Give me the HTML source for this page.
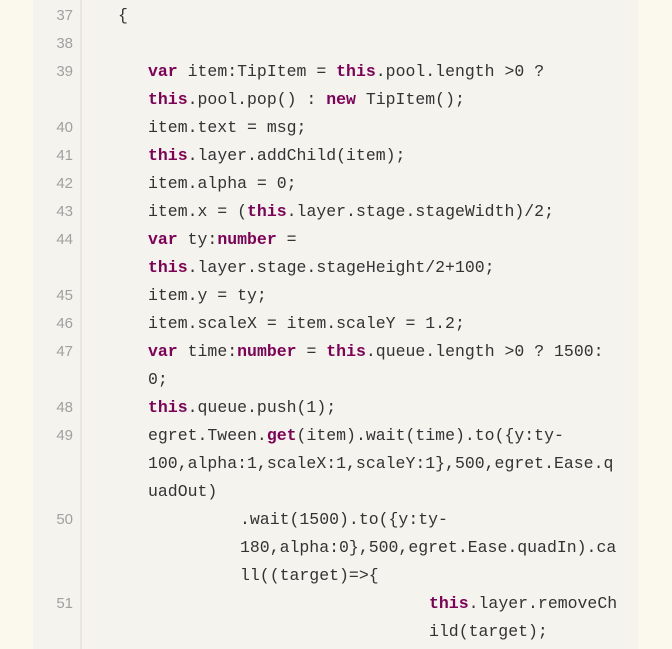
<!DOCTYPE html><html><head><style>
body{margin:0;width:672px;height:649px;background:#fbf8ee;position:relative;overflow:hidden;font-family:"Liberation Mono",monospace;}
.blk{position:absolute;left:33px;top:0;width:605px;height:649px;background:#f5f3ee;}
.gut{position:absolute;left:80px;top:0;width:2px;height:649px;background:#e8e5dd;}
.n{position:absolute;width:40px;left:33px;text-align:right;color:#a0a0a0;font-size:15px;line-height:28px;font-family:"Liberation Sans",sans-serif;}
.l{position:absolute;white-space:pre;font-size:16.5px;line-height:28px;color:#333;}
b{color:#7f0055;}
</style></head><body>
<div class="blk"></div><div class="gut"></div>
<div class="n" style="top:2px">37</div>
<div class="n" style="top:30px">38</div>
<div class="n" style="top:58px">39</div>
<div class="n" style="top:114px">40</div>
<div class="n" style="top:142px">41</div>
<div class="n" style="top:170px">42</div>
<div class="n" style="top:198px">43</div>
<div class="n" style="top:226px">44</div>
<div class="n" style="top:282px">45</div>
<div class="n" style="top:310px">46</div>
<div class="n" style="top:338px">47</div>
<div class="n" style="top:394px">48</div>
<div class="n" style="top:422px">49</div>
<div class="n" style="top:506px">50</div>
<div class="n" style="top:590px">51</div>
<div class="l" style="top:2px;left:118px">{</div>
<div class="l" style="top:58px;left:148px"><b>var</b> item:TipItem = <b>this</b>.pool.length &gt;0 ?</div>
<div class="l" style="top:86px;left:148px"><b>this</b>.pool.pop() : <b>new</b> TipItem();</div>
<div class="l" style="top:114px;left:148px">item.text = msg;</div>
<div class="l" style="top:142px;left:148px"><b>this</b>.layer.addChild(item);</div>
<div class="l" style="top:170px;left:148px">item.alpha = 0;</div>
<div class="l" style="top:198px;left:148px">item.x = (<b>this</b>.layer.stage.stageWidth)/2;</div>
<div class="l" style="top:226px;left:148px"><b>var</b> ty:<b>number</b> =</div>
<div class="l" style="top:254px;left:148px"><b>this</b>.layer.stage.stageHeight/2+100;</div>
<div class="l" style="top:282px;left:148px">item.y = ty;</div>
<div class="l" style="top:310px;left:148px">item.scaleX = item.scaleY = 1.2;</div>
<div class="l" style="top:338px;left:148px"><b>var</b> time:<b>number</b> = <b>this</b>.queue.length &gt;0 ? 1500:</div>
<div class="l" style="top:366px;left:148px">0;</div>
<div class="l" style="top:394px;left:148px"><b>this</b>.queue.push(1);</div>
<div class="l" style="top:422px;left:148px">egret.Tween.<b>get</b>(item).wait(time).to({y:ty-</div>
<div class="l" style="top:450px;left:148px">100,alpha:1,scaleX:1,scaleY:1},500,egret.Ease.q</div>
<div class="l" style="top:478px;left:148px">uadOut)</div>
<div class="l" style="top:506px;left:240px">.wait(1500).to({y:ty-</div>
<div class="l" style="top:534px;left:240px">180,alpha:0},500,egret.Ease.quadIn).ca</div>
<div class="l" style="top:562px;left:240px">ll((target)=&gt;{</div>
<div class="l" style="top:590px;left:429px"><b>this</b>.layer.removeCh</div>
<div class="l" style="top:618px;left:429px">ild(target);</div>
</body></html>
